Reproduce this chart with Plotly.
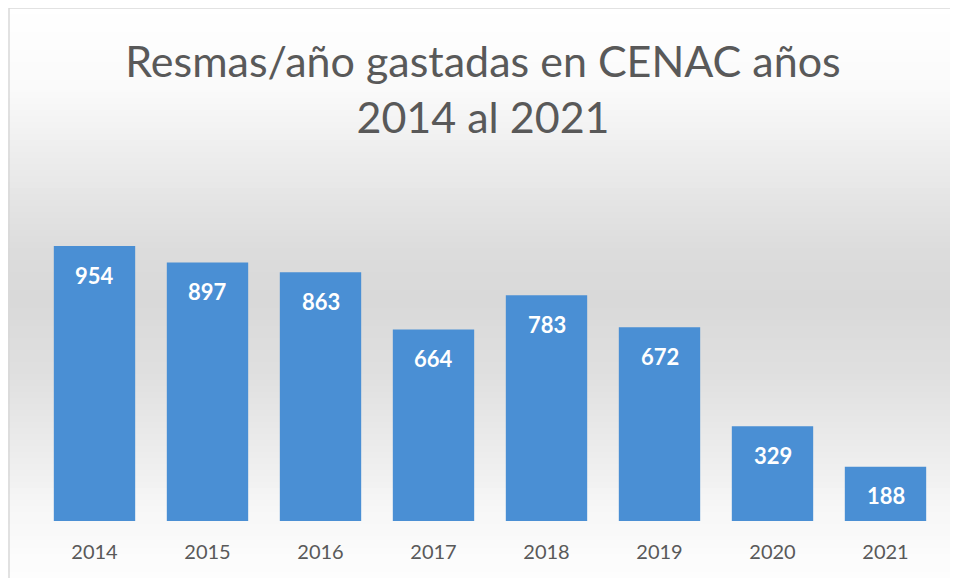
import plotly.graph_objects as go

years = ["2014", "2015", "2016", "2017", "2018", "2019", "2020", "2021"]
resmas = [954, 897, 863, 664, 783, 672, 329, 188]
title_lines = ["Resmas/año gastadas en CENAC años", "2014 al 2021"]

# page body has an 8px margin, so the figure starts at (8, 8) on screen
OFF = 8
W, H = 958 - OFF, 578 - OFF
ML, MR, MT, MB = 38 - OFF, 16, 140 - OFF, 57
PW, PH = W - ML - MR, H - MT - MB

def px_to_paper_y(py):  # py in screen pixels
    return (H - MB - (py - OFF)) / PH

def px_to_paper_x(px):
    return (px - OFF - ML) / PW

# background vertical gradient stops (screen pixel y, gray level)
stops = [(6, 255), (90, 250), (160, 236), (250, 220), (300, 217), (380, 224), (450, 236), (510, 247), (560, 252), (578, 253)]

def gray_at(py):
    for (y0, g0), (y1, g1) in zip(stops[:-1], stops[1:]):
        if y0 <= py <= y1:
            t = (py - y0) / (y1 - y0)
            return g0 + (g1 - g0) * t
    return 255

shapes = []
step = 6
y = 8
while y < 578:
    y2 = min(y + step, 578)
    g = int(round(gray_at((y + y2) / 2)))
    shapes.append(dict(type="rect", xref="paper", yref="paper", layer="below",
                       x0=px_to_paper_x(8), x1=px_to_paper_x(960),
                       y0=px_to_paper_y(y2), y1=px_to_paper_y(y),
                       fillcolor=f"rgb({g},{g},{g})", line=dict(width=0)))
    y = y2
# border
shapes.append(dict(type="line", xref="paper", yref="paper",
                   x0=px_to_paper_x(9), x1=px_to_paper_x(9),
                   y0=px_to_paper_y(580), y1=px_to_paper_y(8),
                   line=dict(color="#d9d9d9", width=1.5)))
shapes.append(dict(type="line", xref="paper", yref="paper",
                   x0=px_to_paper_x(9), x1=px_to_paper_x(960),
                   y0=px_to_paper_y(8), y1=px_to_paper_y(8),
                   line=dict(color="#d9d9d9", width=1.5)))

fig = go.Figure(go.Bar(
    x=years, y=resmas,
    marker=dict(color="#4a8fd4", line=dict(width=0)),
    width=0.72,
    hoverinfo="skip",
))

annotations = [dict(x=i, y=v, xref="x", yref="y", text=f"<b>{v}</b>", showarrow=False,
                    yanchor="middle", yshift=-29,
                    font=dict(family="Lato", size=22, color="white"))
               for i, v in enumerate(resmas)]

fig.update_layout(
    width=W, height=H,
    margin=dict(l=ML, r=MR, t=MT, b=MB),
    paper_bgcolor="white",
    plot_bgcolor="rgba(0,0,0,0)",
    showlegend=False,
    shapes=shapes,
    annotations=annotations,
    title=dict(text="<br>".join(title_lines), x=0.5, xanchor="center",
               y=1 - (77 - OFF) / H, yanchor="middle",
               font=dict(family="Lato", size=43, color="#595959")),
    xaxis=dict(type="category", range=[-0.5, len(years) - 0.5],
               showgrid=False, showline=False, zeroline=False, ticks="",
               ticklabelstandoff=17,
               tickfont=dict(family="Lato", size=20, color="#595959")),
    yaxis=dict(visible=False, range=[0, PH / (275 / 954)]),
    bargap=0.28,
)

fig.write_html("out.html", config={"displayModeBar": False})
